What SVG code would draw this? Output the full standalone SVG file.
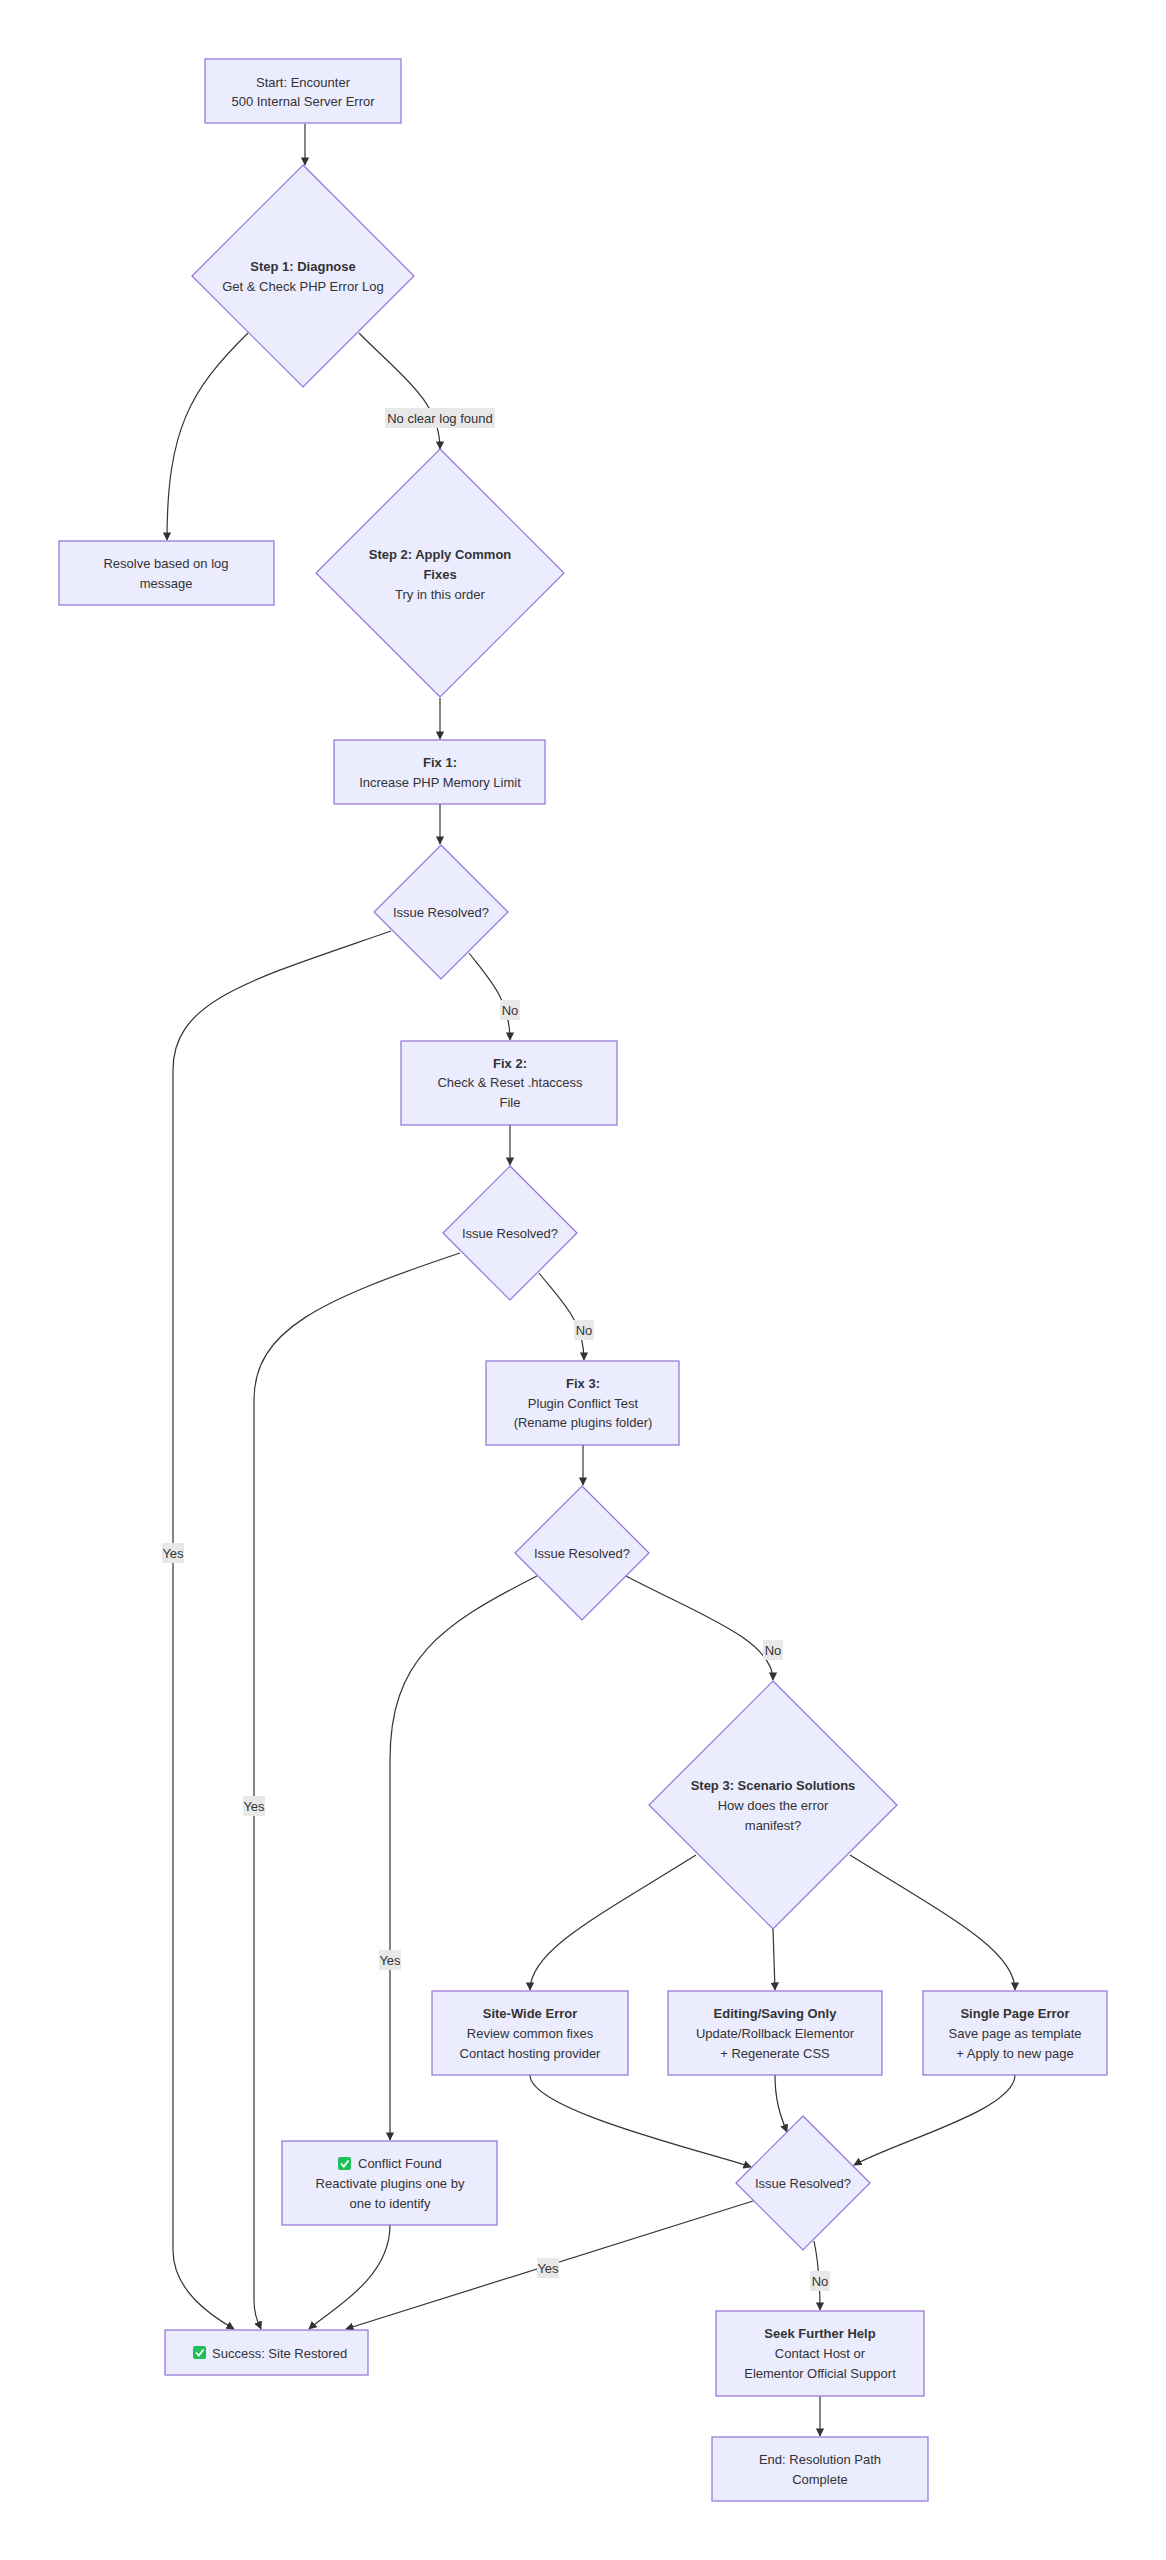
<svg xmlns="http://www.w3.org/2000/svg" width="1166" height="2560" viewBox="0 0 1166 2560">
<style>
.n{fill:#ECECFF;stroke:#9370DB;stroke-width:1.2}
text{font-family:"Liberation Sans",Arial,sans-serif;font-size:13px;fill:#333;text-anchor:middle;dominant-baseline:central}
.b{font-weight:bold}
.e{fill:none;stroke:#333;stroke-width:1.2;marker-end:url(#ah)}
.lb{fill:#e8e8e8}
.ic{fill:#1fc05a}
.ck{fill:none;stroke:#fff;stroke-width:1.8}
</style>
<defs><marker id="ah" viewBox="0 0 10 10" refX="9" refY="5" markerWidth="7" markerHeight="7" orient="auto"><path d="M0,0L10,5L0,10z" fill="#333"/></marker></defs>
<rect width="1166" height="2560" fill="#fff"/>
<g id="edges">
<path class="e" d="M305,124L305,165"/>
<path class="e" d="M248,333C190,390 167,430 167,540"/>
<path class="e" d="M359,333C400,375 440,400 440,449"/>
<path class="e" d="M440,698L440,739"/>
<path class="e" d="M440,804L440,844"/>
<path class="e" d="M469,953C490,980 510,1000 510,1040"/>
<path class="e" d="M391,931C250,980 173,1000 173,1070L173,2250C173,2290 210,2315 234,2329"/>
<path class="e" d="M510,1125L510,1165"/>
<path class="e" d="M539,1273C560,1300 584,1320 584,1360"/>
<path class="e" d="M460,1253C320,1300 254,1330 254,1400L254,2300C254,2315 258,2322 261,2329"/>
<path class="e" d="M583,1445L583,1485"/>
<path class="e" d="M626,1576C700,1615 773,1640 773,1680"/>
<path class="e" d="M537,1576C440,1625 390,1660 390,1760L390,2140"/>
<path class="e" d="M696,1855C600,1915 530,1950 530,1990"/>
<path class="e" d="M773,1929L775,1990"/>
<path class="e" d="M850,1855C946,1915 1015,1950 1015,1990"/>
<path class="e" d="M530,2075C530,2110 700,2150 751,2167"/>
<path class="e" d="M775,2075C775,2100 780,2115 787,2132"/>
<path class="e" d="M1015,2075C1015,2110 900,2140 854,2165"/>
<path class="e" d="M753,2201L346,2329"/>
<path class="e" d="M814,2241C818,2260 820,2280 820,2310"/>
<path class="e" d="M390,2225C390,2280 330,2310 309,2329"/>
<path class="e" d="M820,2396L820,2436"/>
<rect class="lb" x="385" y="408" width="110" height="20"/><text x="440" y="418">No clear log found</text>
<rect class="lb" x="500" y="1000" width="20" height="20"/><text x="510" y="1010">No</text>
<rect class="lb" x="574" y="1320" width="20" height="20"/><text x="584" y="1330">No</text>
<rect class="lb" x="763" y="1640" width="20" height="20"/><text x="773" y="1650">No</text>
<rect class="lb" x="810" y="2271" width="20" height="20"/><text x="820" y="2281">No</text>
<rect class="lb" x="162" y="1543" width="22" height="20"/><text x="173" y="1553">Yes</text>
<rect class="lb" x="243" y="1796" width="22" height="20"/><text x="254" y="1806">Yes</text>
<rect class="lb" x="379" y="1950" width="22" height="20"/><text x="390" y="1960">Yes</text>
<rect class="lb" x="537" y="2258" width="22" height="20"/><text x="548" y="2268">Yes</text>
</g>
<g id="start"><rect class="n" x="205" y="59" width="196" height="64"/><text x="303" y="82">Start: Encounter</text><text x="303" y="101">500 Internal Server Error</text></g>
<g id="diag"><path class="n" d="M303,165L414,276L303,387L192,276Z"/><text class="b" x="303" y="266">Step 1: Diagnose</text><text x="303" y="286">Get &amp; Check PHP Error Log</text></g>
<g id="resolve"><rect class="n" x="59" y="541" width="215" height="64"/><text x="166" y="563">Resolve based on log</text><text x="166" y="583">message</text></g>
<g id="step2"><path class="n" d="M440,449L564,573L440,697L316,573Z"/><text class="b" x="440" y="554">Step 2: Apply Common</text><text class="b" x="440" y="574">Fixes</text><text x="440" y="594">Try in this order</text></g>
<g id="fix1"><rect class="n" x="334" y="740" width="211" height="64"/><text class="b" x="440" y="762">Fix 1:</text><text x="440" y="782">Increase PHP Memory Limit</text></g>
<g id="ir1"><path class="n" d="M441,845L508,912L441,979L374,912Z"/><text x="441" y="912">Issue Resolved?</text></g>
<g id="fix2"><rect class="n" x="401" y="1041" width="216" height="84"/><text class="b" x="510" y="1063">Fix 2:</text><text x="510" y="1082">Check &amp; Reset .htaccess</text><text x="510" y="1102">File</text></g>
<g id="ir2"><path class="n" d="M510,1166L577,1233L510,1300L443,1233Z"/><text x="510" y="1233">Issue Resolved?</text></g>
<g id="fix3"><rect class="n" x="486" y="1361" width="193" height="84"/><text class="b" x="583" y="1383">Fix 3:</text><text x="583" y="1403">Plugin Conflict Test</text><text x="583" y="1422">(Rename plugins folder)</text></g>
<g id="ir3"><path class="n" d="M582,1486L649,1553L582,1620L515,1553Z"/><text x="582" y="1553">Issue Resolved?</text></g>
<g id="step3"><path class="n" d="M773,1681L897,1805L773,1929L649,1805Z"/><text class="b" x="773" y="1785">Step 3: Scenario Solutions</text><text x="773" y="1805">How does the error</text><text x="773" y="1825">manifest?</text></g>
<g id="sitewide"><rect class="n" x="432" y="1991" width="196" height="84"/><text class="b" x="530" y="2013">Site-Wide Error</text><text x="530" y="2033">Review common fixes</text><text x="530" y="2053">Contact hosting provider</text></g>
<g id="editing"><rect class="n" x="668" y="1991" width="214" height="84"/><text class="b" x="775" y="2013">Editing/Saving Only</text><text x="775" y="2033">Update/Rollback Elementor</text><text x="775" y="2053">+ Regenerate CSS</text></g>
<g id="single"><rect class="n" x="923" y="1991" width="184" height="84"/><text class="b" x="1015" y="2013">Single Page Error</text><text x="1015" y="2033">Save page as template</text><text x="1015" y="2053">+ Apply to new page</text></g>
<g id="ir4"><path class="n" d="M803,2116L870,2183L803,2250L736,2183Z"/><text x="803" y="2183">Issue Resolved?</text></g>
<g id="conflict"><rect class="n" x="282" y="2141" width="215" height="84"/><rect class="ic" x="338" y="2157" width="13" height="13" rx="2"/><path class="ck" d="M341,2163.5L343.8,2166.5L348.5,2160.5"/><text x="358" y="2163" style="text-anchor:start">Conflict Found</text><text x="390" y="2183">Reactivate plugins one by</text><text x="390" y="2203">one to identify</text></g>
<g id="success"><rect class="n" x="165" y="2330" width="203" height="45"/><rect class="ic" x="193" y="2346" width="13" height="13" rx="2"/><path class="ck" d="M196,2352.5L198.8,2355.5L203.5,2349.5"/><text x="212" y="2353" style="text-anchor:start">Success: Site Restored</text></g>
<g id="seek"><rect class="n" x="716" y="2311" width="208" height="85"/><text class="b" x="820" y="2333">Seek Further Help</text><text x="820" y="2353">Contact Host or</text><text x="820" y="2373">Elementor Official Support</text></g>
<g id="end"><rect class="n" x="712" y="2437" width="216" height="64"/><text x="820" y="2459">End: Resolution Path</text><text x="820" y="2479">Complete</text></g>
</svg>
